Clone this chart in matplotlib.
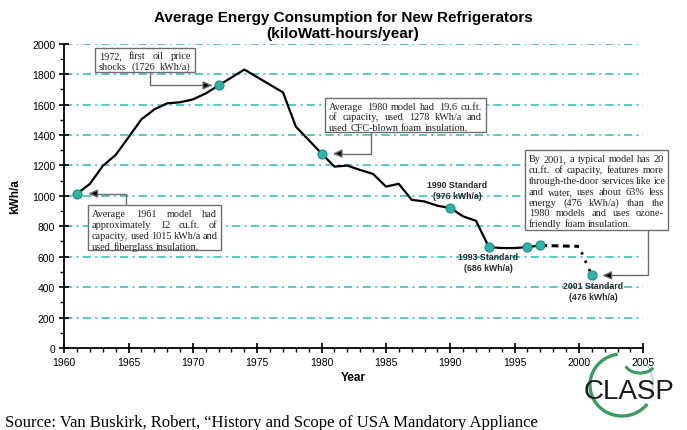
import matplotlib
matplotlib.use("Agg")
import matplotlib.pyplot as plt
from matplotlib.patches import Rectangle, Arc
from matplotlib.ticker import MultipleLocator

# measured series (kWh/a per year)
years = list(range(1961, 1998))
kwh = [1015, 1079, 1197, 1269, 1385, 1503, 1568, 1608, 1615, 1634,
       1673, 1726, 1778, 1830, 1780, 1730, 1680, 1455, 1367, 1278,
       1192, 1199, 1170, 1144, 1061, 1079, 974, 963, 935, 920,
       865, 836, 663, 657, 657, 663, 674]
marker_years = [1961, 1972, 1980, 1990, 1993, 1996, 1997]
proj_years = [1997, 2000, 2001]
proj_kwh = [674, 668, 477]

title = "Average Energy Consumption for New Refrigerators\n(kiloWatt-hours/year)"
standards = [("1990 Standard", "(976 kWh/a)"),
             ("1993 Standard", "(686 kWh/a)"),
             ("2001 Standard", "(476 kWh/a)")]

W, H = 687, 431
GRID = "#3dbdc2"
DOT = "#2fb3a6"

fig = plt.figure(figsize=(W / 100, H / 100), dpi=100)
renderer = fig.canvas.get_renderer()


def fp(x, y):
    # figure pixel (top-left origin) -> figure fraction
    return x / W, 1 - y / H


ax = fig.add_axes([64.2 / W, 1 - 349 / H, (643.3 - 64.2) / W, (349 - 44.7) / H])
ax.set_xlim(1960, 2005)
ax.set_ylim(0, 2000)
for s in ["top", "right"]:
    ax.spines[s].set_visible(False)
for s in ["left", "bottom"]:
    ax.spines[s].set_linewidth(1.3)
ax.xaxis.set_major_locator(MultipleLocator(5))
ax.xaxis.set_minor_locator(MultipleLocator(1))
ax.yaxis.set_major_locator(MultipleLocator(200))
ax.yaxis.set_minor_locator(MultipleLocator(100))
ax.tick_params(which="major", direction="inout", length=7, width=1.2,
               labelsize=7.5, pad=3)
ax.tick_params(which="minor", direction="out", length=3, width=1)
for lab in ax.get_xticklabels() + ax.get_yticklabels():
    lab.set_family("Liberation Sans")

# dash-dot grid
for v in range(200, 2001, 200):
    ax.axhline(v, color=GRID, lw=1.2, ls=(0, (5, 2.5, 1.2, 2.5)), zorder=1)

ax.plot(years, kwh, color="black", lw=1.6, zorder=3)
ax.plot(proj_years[:2], proj_kwh[:2], color="black", lw=2.2,
        ls=(0, (2.2, 1.5)), zorder=3)
ax.plot(proj_years[1:], proj_kwh[1:], color="black", lw=2.0,
        ls=(1, (0.9, 2.4)), zorder=3)
mk_vals = [kwh[years.index(y)] for y in marker_years]
ax.plot(marker_years + [proj_years[-1]], mk_vals + [proj_kwh[-1]], "o",
        ms=6.5, mfc=DOT, mec="#1b8c86", mew=0.8, zorder=4)

ax.set_xlabel("Year", fontsize=8.5, fontweight="bold", family="Liberation Sans",
              labelpad=3)
ax.set_ylabel("kWh/a", fontsize=8.5, fontweight="bold", family="Liberation Sans",
              labelpad=8)

fig.text(*fp(343, 26), title, ha="center", va="center", fontsize=11,
         fontweight="bold", family="Liberation Sans", linespacing=1.15)

# standard labels
std_pos = [(457, 191), (488, 263), (593, 292)]
for (l1, l2), (x, y) in zip(standards, std_pos):
    fig.text(*fp(x, y), l1 + "\n" + l2, ha="center", va="center", fontsize=6.3,
             fontweight="bold", family="Liberation Sans", color="#2a2a2a",
             linespacing=1.3, zorder=6)


def note(x0, y0, x1, y1, lines, first_y, step, size=7.4, fill_last=False):
    fig.add_artist(Rectangle(fp(x0, y1), (x1 - x0) / W, (y1 - y0) / H,
                             transform=fig.transFigure, fc="white",
                             ec="#6e6e6e", lw=1.0, zorder=5))
    pad = 4
    for i, line in enumerate(lines):
        words = line.split()
        ty = first_y + i * step + 3
        texts = [fig.text(*fp(0, ty), w, fontsize=size, family="Liberation Serif",
                          va="baseline", ha="left", zorder=6, color="#222222")
                 for w in words]
        widths = [t.get_window_extent(renderer).width for t in texts]
        last = i == len(lines) - 1 and not fill_last
        if last or len(words) == 1:
            gap = size * 0.35
        else:
            gap = (x1 - x0 - 2 * pad - sum(widths)) / (len(words) - 1)
            gap = max(gap, 2.0)
        x = x0 + pad
        for t, w in zip(texts, widths):
            t.set_x(x / W)
            x += w + gap


def arrow(year, value, sx, sy, shrink):
    ax.annotate("", xy=(year, value), xycoords="data",
                xytext=fp(sx, sy), textcoords="figure fraction",
                arrowprops=dict(arrowstyle="-|>,head_length=0.55,head_width=0.25",
                                ec="#6e6e6e", fc="black", lw=1.0,
                                shrinkA=0, shrinkB=shrink,
                                connectionstyle="angle,angleA=90,angleB=0,rad=0"),
                annotation_clip=False, zorder=2)


note(95, 49, 195, 73, ["1972, first oil price", "shocks (1726 kWh/a)"], 56, 11,
     fill_last=True)
arrow(1972, kwh[years.index(1972)], 150, 73, 4.5)

note(325, 99, 486, 133, ["Average 1980 model had 19.6 cu.ft.",
                         "of capacity, used 1278 kWh/a and",
                         "used CFC-blown foam insulation."], 106.5, 10.8)
arrow(1980, kwh[years.index(1980)], 371, 133, 8)

note(88, 206, 221, 251, ["Average 1961 model had",
                         "approximately 12 cu.ft. of",
                         "capacity, used 1015 kWh/a and",
                         "used fiberglass insulation."], 214, 11)
arrow(1961, kwh[0], 126, 206, 8)

note(525, 151, 668, 231, ["By 2001, a typical model has 20",
                          "cu.ft. of capacity, features more",
                          "through-the-door services like ice",
                          "and water, uses about 63% less",
                          "energy (476 kWh/a) than the",
                          "1980 models and uses ozone-",
                          "friendly foam insulation."], 159.5, 10.8)
arrow(proj_years[-1], proj_kwh[-1], 648, 231, 7.5)

# CLASP logo
fig.add_artist(Arc(fp(622, 386), 64 / W, 62 / H, theta1=95, theta2=310,
                   transform=fig.transFigure, color="#3c9a5f", lw=2.4, zorder=7))
fig.add_artist(Arc(fp(628, 384), 50 / W, 56 / H, theta1=-50, theta2=60,
                   transform=fig.transFigure, color="#a8d6b5", lw=1.0, zorder=7))
fig.add_artist(Arc(fp(640, 364), 30 / W, 20 / H, theta1=200, theta2=330,
                   transform=fig.transFigure, color="#3c9a5f", lw=2.2, zorder=7))
fig.text(*fp(629, 392), "CLASP", ha="center", va="center", fontsize=20,
         family="Liberation Sans", color="#1a1a1a", zorder=8)

fig.text(*fp(5, 423), "Source: Van Buskirk, Robert, \u201cHistory and Scope of USA Mandatory Appliance",
         ha="left", va="center", fontsize=12, family="Liberation Serif", color="black")

fig.savefig("out.png", dpi=100)
